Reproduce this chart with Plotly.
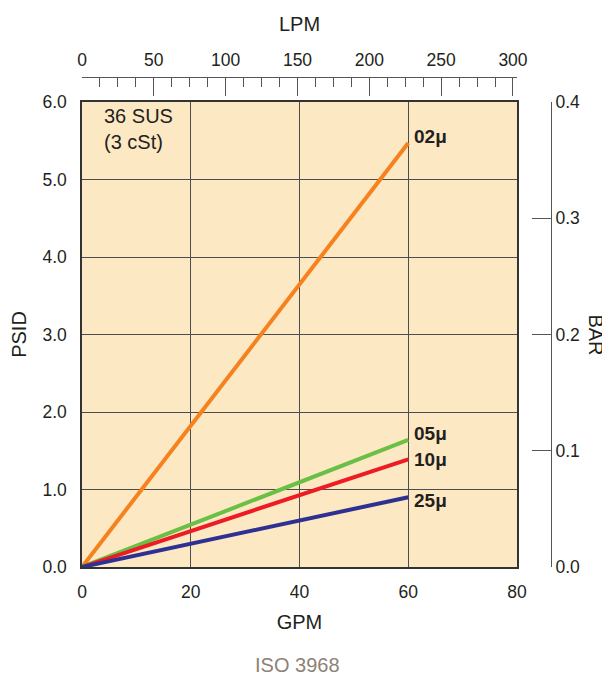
import plotly.graph_objects as go

gpm = [0, 60]
series_names = ["02μ", "05μ", "10μ", "25μ"]
psid_02 = [0, 5.47]
psid_05 = [0, 1.64]
psid_10 = [0, 1.39]
psid_25 = [0, 0.90]
colors = ["#f5821f", "#6abf45", "#ed1c24", "#2e3192"]
label_offsets = [0.08, 0.08, 0.0, -0.04]

psid_ticks = [0, 1, 2, 3, 4, 5, 6]
gpm_ticks = [0, 20, 40, 60, 80]
lpm_ticks = [0, 50, 100, 150, 200, 250, 300]
bar_ticks = [0.0, 0.1, 0.2, 0.3, 0.4]

font = "Liberation Sans, Arial, sans-serif"
dark = "#231f20"

fig = go.Figure()
for name, ys, c in zip(series_names, [psid_02, psid_05, psid_10, psid_25], colors):
    fig.add_trace(go.Scatter(x=gpm, y=ys, mode="lines", line=dict(color=c, width=4),
                             showlegend=False, hoverinfo="skip"))
for name, ys, off in zip(series_names, [psid_02, psid_05, psid_10, psid_25], label_offsets):
    fig.add_annotation(x=gpm[-1], y=ys[-1] + off, text="<b>" + name + "</b>", xref="x", yref="y",
                       xanchor="left", yanchor="middle", xshift=4, showarrow=False,
                       font=dict(family=font, size=19, color=dark))

# invisible traces for the secondary axes
fig.add_trace(go.Scatter(x=[0, 300], y=[0, 0], xaxis="x2", yaxis="y", mode="none",
                         showlegend=False, hoverinfo="skip"))
fig.add_trace(go.Scatter(x=[0, 0], y=[0, 0.4], xaxis="x", yaxis="y2", mode="none",
                         showlegend=False, hoverinfo="skip"))

fig.add_annotation(x=0, y=6, xref="x", yref="y", text="36 SUS<br>(3 cSt)",
                   xanchor="left", yanchor="top", align="left", showarrow=False, xshift=20, yshift=-1,
                   font=dict(family=font, size=20, color=dark))

xdom = 435 / 469
ytop = 465 / 490
tf = dict(family=font, size=17.5, color=dark)

fig.update_layout(
    width=602, height=669,
    margin=dict(l=74, r=59, t=69, b=110),
    paper_bgcolor="white",
    plot_bgcolor="#fde8c4",
    font=dict(family=font, size=17, color=dark),
    xaxis=dict(domain=[0, xdom], range=[0, 80], tickvals=gpm_ticks, ticktext=[str(v) for v in gpm_ticks],
               showgrid=True, gridcolor="#4d4d4d", gridwidth=1, zeroline=False, automargin=False,
               showline=True, linecolor="#333333", linewidth=1.5, mirror=True,
               ticks="outside", ticklen=8, tickcolor="rgba(0,0,0,0)", tickfont=tf,
               title=dict(text="GPM", font=dict(size=20), standoff=14)),
    yaxis=dict(domain=[0, ytop], range=[0, 6], tickvals=psid_ticks, ticktext=[f"{v:.1f}" for v in psid_ticks],
               showgrid=True, gridcolor="#4d4d4d", gridwidth=1, zeroline=False, automargin=False,
               showline=True, linecolor="#333333", linewidth=1.5, mirror=True,
               ticks="outside", ticklen=10, tickcolor="rgba(0,0,0,0)", tickfont=tf,
               title=dict(text="PSID", font=dict(size=20), standoff=10)),
    xaxis2=dict(overlaying="x", anchor="free", position=1.0, side="top", domain=[0, xdom],
                range=[0, 80 * 3.785], tickvals=lpm_ticks, ticktext=[str(v) for v in lpm_ticks],
                showgrid=False, zeroline=False, showline=True, linecolor="#555555", linewidth=1,
                automargin=False, tickfont=tf,
                ticks="inside", ticklen=18, tickcolor="#555555", ticklabelstandoff=4,
                minor=dict(dtick=12.5, tick0=0, ticks="inside", ticklen=9, tickcolor="#555555"),
                title=dict(text="LPM", font=dict(size=20), standoff=12)),
    yaxis2=dict(overlaying="y", anchor="free", position=1.0, side="right", domain=[0, ytop],
                range=[0, 0.4], tickvals=bar_ticks, ticktext=[f"{v:.1f}" for v in bar_ticks],
                showgrid=False, zeroline=False, showline=True, linecolor="#555555", linewidth=1,
                automargin=False, tickfont=tf,
                ticks="inside", ticklen=19, tickcolor="#555555"),
)

# BAR title reads top-to-bottom in the reference
fig.add_annotation(x=1.095, y=0.4735, xref="paper", yref="paper", text="BAR", showarrow=False,
                   xanchor="center", yanchor="middle", textangle=90,
                   font=dict(family=font, size=20, color=dark))
fig.add_annotation(x=0.46, y=-0.2, xref="paper", yref="paper", text="ISO 3968", showarrow=False,
                   xanchor="center", yanchor="middle",
                   font=dict(family=font, size=20, color="#8c8275"))

fig.write_html("out.html")
